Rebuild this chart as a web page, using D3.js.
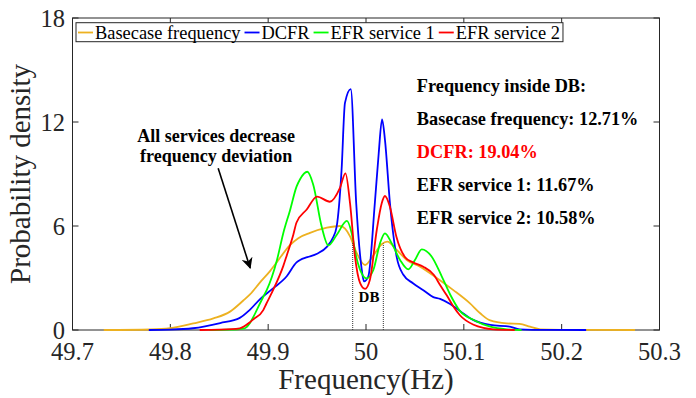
<!DOCTYPE html>
<html>
<head>
<meta charset="utf-8">
<script src="https://cdn.jsdelivr.net/npm/d3@7"></script>
<style>
  html, body { margin: 0; padding: 0; background: #fff; }
  svg { display: block; font-family: "Liberation Serif", "Times New Roman", serif; }
</style>
</head>
<body>
<svg id="chart" width="696" height="398"></svg>
<script>
// Kernel density estimates of grid frequency, [frequency Hz, density]
const basecase = [
  [49.732,0],[49.78,0.03],[49.80,0.1],[49.8235,0.38],[49.844,0.67],[49.861,1.06],
  [49.8746,1.7],[49.8814,2.05],[49.8917,2.75],[49.9019,3.4],[49.9087,3.9],[49.9223,4.9],
  [49.9308,5.3],[49.9428,5.6],[49.960,5.9],[49.9734,6.0],[49.9786,5.85],[49.9837,5.4],
  [49.990,4.5],[49.999,3.75],[50.0075,4.3],[50.016,4.95],[50.0218,5.1],[50.0314,4.62],
  [50.0416,4.04],[50.0552,3.65],[50.0723,3.0],[50.0893,2.3],[50.106,1.55],[50.117,0.95],
  [50.127,0.55],[50.144,0.38],[50.157,0.35],[50.1677,0.19],[50.178,0.04],[50.20,0.01],[50.275,0]
];
const dcfr = [
  [49.778,0],[49.80,0.02],[49.823,0.1],[49.851,0.4],[49.871,0.7],[49.881,1.15],
  [49.892,1.8],[49.905,2.4],[49.919,3.1],[49.929,3.9],[49.9326,4.04],[49.940,4.2],
  [49.950,4.4],[49.960,4.8],[49.966,5.3],[49.970,5.96],[49.975,9.2],[49.9785,13.1],
  [49.9844,13.9],[49.990,7.3],[49.9956,3.5],[49.998,2.8],[50.0024,3.1],[50.009,7.3],
  [50.013,10.2],[50.0164,12.15],[50.0194,10.96],[50.0245,7.3],[50.0314,4.2],[50.038,3.2],
  [50.048,2.7],[50.0586,2.3],[50.0688,1.9],[50.0757,1.8],[50.086,1.5],[50.096,1.1],
  [50.109,0.6],[50.127,0.29],[50.147,0.19],[50.157,0.04],[50.17,0.01],[50.225,0]
];
const efr1 = [
  [49.84,0],[49.86,0.02],[49.876,0.1],[49.8814,0.4],[49.885,0.77],[49.895,1.92],
  [49.8985,2.3],[49.909,4.04],[49.9155,5.6],[49.9223,6.9],[49.929,8.27],[49.9326,8.7],
  [49.940,9.13],[49.946,8.4],[49.9547,5.96],[49.9615,4.88],[49.970,5.48],[49.9805,6.29],
  [49.9854,5.58],[49.990,4.23],[49.9956,3.27],[50.0007,2.98],[50.0075,3.46],[50.0143,5.0],
  [50.0194,5.58],[50.0263,5.0],[50.0348,4.04],[50.0433,3.5],[50.050,4.04],[50.057,4.65],
  [50.0672,4.23],[50.0774,3.1],[50.086,2.05],[50.096,1.1],[50.11,0.58],[50.127,0.19],
  [50.144,0.04],[50.159,0]
];
const efr2 = [
  [49.83,0],[49.85,0.02],[49.871,0.1],[49.8814,0.45],[49.8845,0.6],[49.895,1.15],
  [49.898,1.5],[49.905,2.3],[49.9155,3.7],[49.919,4.3],[49.9257,5.5],[49.929,6.2],
  [49.9394,6.95],[49.950,7.7],[49.963,7.4],[49.9734,8.2],[49.979,9.04],[49.9837,7.3],
  [49.9888,4.2],[49.994,2.7],[49.999,2.37],[50.004,2.9],[50.011,5.77],[50.016,7.3],
  [50.0194,7.73],[50.0245,7.1],[50.031,5.4],[50.040,4.2],[50.048,3.9],[50.0586,3.65],
  [50.069,3.2],[50.0757,2.6],[50.0825,2.0],[50.09,1.3],[50.096,0.85],[50.11,0.3],
  [50.12,0.12],[50.13,0.04],[50.152,0]
];

const seriesNames = ["Basecase frequency", "DCFR", "EFR service 1", "EFR service 2"];
const seriesColors = ["#EDB120", "#0000FF", "#00FF00", "#FF0000"];
const seriesData = [basecase, dcfr, efr1, efr2];

const xTicks = [49.7, 49.8, 49.9, 50, 50.1, 50.2, 50.3];
const yTicks = [0, 6, 12, 18];

// Dead-band edges (Hz)
const deadBand = [49.9864, 50.0177];

const statsTitle = "Frequency inside DB:";
const statsLines = [
  {label: "Basecase frequency: 12.71%", color: "#000"},
  {label: "DCFR: 19.04%", color: "#FF0000"},
  {label: "EFR service 1: 11.67%", color: "#000"},
  {label: "EFR service 2: 10.58%", color: "#000"}
];
const noteLines = ["All services decrease", "frequency deviation"];

const svg = d3.select("#chart");
const plotLeft = 72.5, plotRight = 659.5, plotTop = 18, plotBottom = 330;

const x = d3.scaleLinear().domain([49.7, 50.3]).range([plotLeft, plotRight]);
const y = d3.scaleLinear().domain([0, 18]).range([plotBottom, plotTop]);

// Axes with inward ticks on all four sides
const axisColor = "#262626";
const tickLen = 6;
const axes = svg.append("g");
axes.append("rect")
  .attr("x", plotLeft).attr("y", plotTop)
  .attr("width", plotRight - plotLeft).attr("height", plotBottom - plotTop)
  .attr("fill", "none").attr("stroke", axisColor).attr("stroke-width", 1);

xTicks.forEach(t => {
  axes.append("line").attr("x1", x(t)).attr("x2", x(t))
    .attr("y1", plotBottom).attr("y2", plotBottom - tickLen).attr("stroke", axisColor);
  axes.append("line").attr("x1", x(t)).attr("x2", x(t))
    .attr("y1", plotTop).attr("y2", plotTop + tickLen).attr("stroke", axisColor);
  axes.append("text").attr("x", x(t)).attr("y", 360)
    .attr("text-anchor", "middle").attr("font-size", 24.5).attr("fill", axisColor)
    .text(d3.format("~g")(t));
});
yTicks.forEach(t => {
  axes.append("line").attr("x1", plotLeft).attr("x2", plotLeft + tickLen)
    .attr("y1", y(t)).attr("y2", y(t)).attr("stroke", axisColor);
  axes.append("line").attr("x1", plotRight).attr("x2", plotRight - tickLen)
    .attr("y1", y(t)).attr("y2", y(t)).attr("stroke", axisColor);
  axes.append("text").attr("x", plotLeft - 7.5).attr("y", y(t) + 9)
    .attr("text-anchor", "end").attr("font-size", 24.5).attr("fill", axisColor)
    .text(t);
});

svg.append("text").attr("x", (plotLeft + plotRight) / 2).attr("y", 389)
  .attr("text-anchor", "middle").attr("font-size", 29).attr("fill", axisColor)
  .text("Frequency(Hz)");
svg.append("text")
  .attr("transform", `translate(30,${(plotTop + plotBottom) / 2}) rotate(-90)`)
  .attr("text-anchor", "middle").attr("font-size", 29).attr("fill", axisColor)
  .text("Probability density");

// Density curves
const line = d3.line()
  .x(d => x(d[0])).y(d => y(d[1]))
  .curve(d3.curveMonotoneX);

const plot = svg.append("g");
seriesData.forEach((s, i) => {
  plot.append("path").datum(s)
    .attr("d", line)
    .attr("fill", "none")
    .attr("stroke", seriesColors[i])
    .attr("stroke-width", 1.8)
    .attr("stroke-linejoin", "round");
});

// Dead-band markers reach up to the basecase density at each edge
function basecaseAt(f) {
  for (let i = 1; i < basecase.length; i++) {
    const [f0, d0] = basecase[i - 1], [f1, d1] = basecase[i];
    if (f >= f0 && f <= f1) return d0 + (d1 - d0) * (f - f0) / (f1 - f0);
  }
  return 0;
}
deadBand.forEach(f => {
  plot.append("line")
    .attr("x1", x(f)).attr("x2", x(f))
    .attr("y1", y(0)).attr("y2", y(basecaseAt(f)))
    .attr("stroke", "#333").attr("stroke-width", 1)
    .attr("stroke-dasharray", "1,1");
});
plot.append("text")
  .attr("x", x((deadBand[0] + deadBand[1]) / 2) + 1)
  .attr("y", y(1.62))
  .attr("text-anchor", "middle").attr("font-size", 15).attr("font-weight", "bold")
  .text("DB");

// Stats block
const statsX = x(50.052);
const statsY = [13.73, 11.83, 9.92, 8.02, 6.12];
plot.append("text").attr("x", statsX).attr("y", y(statsY[0]))
  .attr("font-size", 18.3).attr("font-weight", "bold").text(statsTitle);
statsLines.forEach((s, i) => {
  plot.append("text").attr("x", statsX).attr("y", y(statsY[i + 1]))
    .attr("font-size", 18.3).attr("font-weight", "bold").attr("fill", s.color)
    .text(s.label);
});

// Note with arrow
const noteX = x(49.8468);
[10.85, 9.7].forEach((v, i) => {
  plot.append("text").attr("x", noteX).attr("y", y(v))
    .attr("text-anchor", "middle").attr("font-size", 18).attr("font-weight", "bold")
    .text(noteLines[i]);
});
svg.append("defs").append("marker")
  .attr("id", "arrowHead").attr("viewBox", "0 0 10 10")
  .attr("refX", 9).attr("refY", 5)
  .attr("markerWidth", 7).attr("markerHeight", 7)
  .attr("markerUnits", "strokeWidth")
  .attr("orient", "auto")
  .append("path").attr("d", "M0,0 L10,5 L0,10 L3,5 Z").attr("fill", "#000");
plot.append("line")
  .attr("x1", x(49.8489)).attr("y1", y(9.33))
  .attr("x2", x(49.8816)).attr("y2", y(3.58))
  .attr("stroke", "#000").attr("stroke-width", 1.6)
  .attr("marker-end", "url(#arrowHead)");

// Legend
const legend = svg.append("g");
const legendBox = legend.append("rect")
  .attr("x", 76).attr("y", 22.7).attr("height", 19)
  .attr("fill", "#fff").attr("stroke", "#262626").attr("stroke-width", 1);
let lx = 78;
seriesNames.forEach((name, i) => {
  legend.append("line")
    .attr("x1", lx).attr("x2", lx + 15)
    .attr("y1", 32.5).attr("y2", 32.5)
    .attr("stroke", seriesColors[i]).attr("stroke-width", 1.8);
  const t = legend.append("text").attr("x", lx + 17).attr("y", 39)
    .attr("font-size", 18.4).attr("fill", "#000").text(name);
  lx += 17 + t.node().getComputedTextLength() + 4;
});
legendBox.attr("width", lx - 76 - 1);
</script>
</body>
</html>
